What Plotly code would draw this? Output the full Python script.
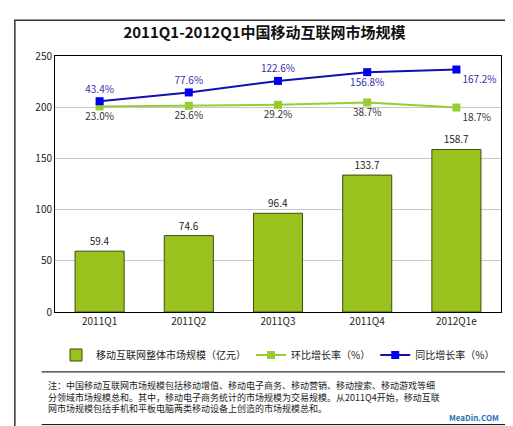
import plotly.graph_objects as go

quarters = ["2011Q1", "2011Q2", "2011Q3", "2011Q4", "2012Q1e"]
market_size = [59.4, 74.6, 96.4, 133.7, 158.7]
qoq_growth = [23.0, 25.6, 29.2, 38.7, 18.7]
yoy_growth = [43.4, 77.6, 122.6, 156.8, 167.2]
yoy_label_pos = ["top center", "top center", "top center", "bottom center", "bottom right"]
qoq_label_pos = ["bottom center", "bottom center", "bottom center", "bottom center", "bottom right"]

font = "Noto Sans CJK SC"

fig = go.Figure()
fig.add_trace(go.Bar(
    x=quarters, y=market_size, name="移动互联网整体市场规模（亿元）",
    marker=dict(color="#99c21f", line=dict(color="#3d4d10", width=1)),
    width=0.55, text=[f"{v:.1f}" for v in market_size], textposition="outside",
    textfont=dict(size=10, color="#222"), cliponaxis=False))
fig.add_trace(go.Scatter(
    x=quarters, y=qoq_growth, name="环比增长率（%）", yaxis="y2",
    mode="lines+markers+text", line=dict(color="#99cc33", width=2),
    marker=dict(symbol="square", size=8, color="#99cc33"),
    text=[f"{v:.1f}%" for v in qoq_growth], textposition=qoq_label_pos,
    textfont=dict(size=10, color="#333")))
fig.add_trace(go.Scatter(
    x=quarters, y=yoy_growth, name="同比增长率（%）", yaxis="y2",
    mode="lines+markers+text", line=dict(color="#1010b0", width=2),
    marker=dict(symbol="square", size=8, color="#0000ee"),
    text=[f"{v:.1f}%" for v in yoy_growth], textposition=yoy_label_pos,
    textfont=dict(size=10, color="#3333aa")))

fig.update_layout(
    width=513, height=426,
    margin=dict(l=47, r=20, t=48, b=122),
    paper_bgcolor="white", plot_bgcolor="white",
    font=dict(family=font, size=10, color="#222"),
    title=dict(text="<b>2011Q1-2012Q1中国移动互联网市场规模</b>", x=0.5, y=0.955,
               xanchor="center", font=dict(size=15, color="#111")),
    xaxis=dict(showline=True, linecolor="black", mirror=True, ticks=""),
    yaxis=dict(range=[0, 250], dtick=50, showgrid=True, gridcolor="#c8c8c8",
               showline=True, linecolor="black", mirror=True, zeroline=False),
    yaxis2=dict(overlaying="y", range=[-780, 220], visible=False),
    legend=dict(orientation="h", x=0.5, xanchor="center", y=-0.168, yanchor="middle",
                font=dict(size=10), itemwidth=30),
    showlegend=True,
    shapes=[
        dict(type="rect", xref="paper", yref="paper", x0=-0.09, x1=1.03, y0=-0.45, y1=1.14,
             line=dict(color="#333", width=1.5), layer="above"),
        dict(type="line", xref="paper", yref="paper", x0=-0.03, x1=1.01, y0=-0.234, y1=-0.234,
             line=dict(color="black", width=1)),
        dict(type="line", xref="paper", yref="paper", x0=-0.03, x1=1.01, y0=-0.44, y1=-0.44,
             line=dict(color="black", width=1)),
    ],
    annotations=[
        dict(xref="paper", yref="paper", x=-0.02, y=-0.255, xanchor="left", yanchor="top",
             align="left", showarrow=False, font=dict(size=9, color="#222"),
             text="注：中国移动互联网市场规模包括移动增值、移动电子商务、移动营销、移动搜索、移动游戏等细<br>"
                  "分领域市场规模总和。其中，移动电子商务统计的市场规模为交易规模。从2011Q4开始，移动互联<br>"
                  "网市场规模包括手机和平板电脑两类移动设备上创造的市场规模总和。"),
        dict(xref="paper", yref="paper", x=1.0, y=-0.44, xanchor="right", yanchor="bottom",
             showarrow=False, text="<b>MeaDin.COM</b>", font=dict(size=8, color="#2a6fb5")),
    ],
)

fig.write_html("out.html")
